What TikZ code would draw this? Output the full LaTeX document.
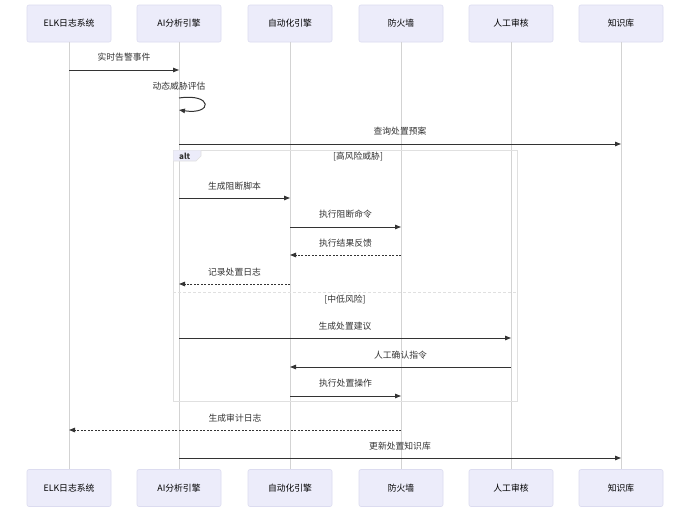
\documentclass[tikz,border=0pt]{standalone}
\usepackage{fontspec}
\setmainfont{Noto Sans CJK SC}
\usetikzlibrary{arrows.meta}
\definecolor{boxfill}{HTML}{ECECFA}
\definecolor{boxline}{HTML}{DCDCF0}
\definecolor{lifec}{HTML}{D3D3D3}
\definecolor{ink}{HTML}{333333}
\definecolor{altline}{HTML}{E0E0E0}
\tikzset{
  part/.style={draw=boxline, fill=boxfill, rounded corners=2pt, minimum width=84pt, minimum height=37pt, font=\fontsize{8.8}{10}\selectfont, text=black, line width=0.6pt},
  lifeline/.style={draw=lifec, line width=0.8pt},
  msg/.style={draw=ink, line width=1pt, -{Triangle[length=6pt,width=4.5pt]}},
  reply/.style={msg, dash pattern=on 2pt off 1.5pt},
  lbl/.style={font=\fontsize{8.8}{10}\selectfont, text=ink, inner sep=0pt},
  altbox/.style={draw=altline, line width=0.8pt},
}
\begin{document}
\begin{tikzpicture}[x=1pt,y=-1pt]
\useasboundingbox (0,0) rectangle (690,512);
\fill[white] (0,0) rectangle (690,512);
% participants top
\node[part] (tELK) at (69,23.5) {ELK日志系统};
\node[part] (tAI) at (179,23.5) {AI分析引擎};
\node[part] (tAUTO) at (290,23.5) {自动化引擎};
\node[part] (tFW) at (401,23.5) {防火墙};
\node[part] (tHUM) at (511,23.5) {人工审核};
\node[part] (tKB) at (621,23.5) {知识库};
% participants bottom
\node[part] (bELK) at (69,488) {ELK日志系统};
\node[part] (bAI) at (179,488) {AI分析引擎};
\node[part] (bAUTO) at (290,488) {自动化引擎};
\node[part] (bFW) at (401,488) {防火墙};
\node[part] (bHUM) at (511,488) {人工审核};
\node[part] (bKB) at (621,488) {知识库};
% lifelines
\foreach \n in {ELK,AI,AUTO,FW,HUM,KB}{
  \draw[lifeline] (t\n.south) -- (b\n.north);
}
% alt frame
\draw[altbox] (173,150) rectangle (517,401);
\fill[boxfill] (173.4,150.4) -- (201,150.4) -- (201,156) -- (196,161) -- (173.4,161) -- cycle;
\draw[altline, line width=0.6pt] (201,150.4) -- (201,156) -- (196,161) -- (173.4,161);
\node[lbl, font=\fontsize{8}{10}\selectfont\bfseries, anchor=west] (altlbl) at (179,156) {alt};
\node[lbl] (cond1) at (358,157) {[高风险威胁]};
\draw[altbox, dash pattern=on 3pt off 2pt] (173,292) -- (517,292);
\node[lbl] (cond2) at (345,300) {[中低风险]};
% messages
\draw[msg] (tELK |- 0,70) -- (tAI |- 0,70);
\node[lbl] (l1) at (124,57) {实时告警事件};
\node[lbl] (l2) at (179,86) {动态威胁评估};
\draw[msg] (tAI |- 0,98) .. controls (213,93) and (213,115) .. (tAI |- 0,110);
\draw[msg] (tAI |- 0,144) -- (tKB |- 0,144);
\node[lbl] (l3) at (400,131) {查询处置预案};
\draw[msg] (tAI |- 0,198) -- (tAUTO |- 0,198);
\node[lbl] (l4) at (234.5,186) {生成阻断脚本};
\draw[msg] (tAUTO |- 0,227) -- (tFW |- 0,227);
\node[lbl] (l5) at (345.5,214) {执行阻断命令};
\draw[reply] (tFW |- 0,255) -- (tAUTO |- 0,255);
\node[lbl] (l6) at (345.5,243) {执行结果反馈};
\draw[reply] (tAUTO |- 0,284) -- (tAI |- 0,284);
\node[lbl] (l7) at (234.5,272) {记录处置日志};
\draw[msg] (tAI |- 0,338) -- (tHUM |- 0,338);
\node[lbl] (l8) at (345,326) {生成处置建议};
\draw[msg] (tHUM |- 0,367) -- (tAUTO |- 0,367);
\node[lbl] (l9) at (400.5,355) {人工确认指令};
\draw[msg] (tAUTO |- 0,396) -- (tFW |- 0,396);
\node[lbl] (l10) at (345.5,383) {执行处置操作};
\draw[reply] (tFW |- 0,430) -- (tELK |- 0,430);
\node[lbl] (l11) at (235,418) {生成审计日志};
\draw[msg] (tAI |- 0,458) -- (tKB |- 0,458);
\node[lbl] (l12) at (400,446) {更新处置知识库};
\end{tikzpicture}
\end{document}
